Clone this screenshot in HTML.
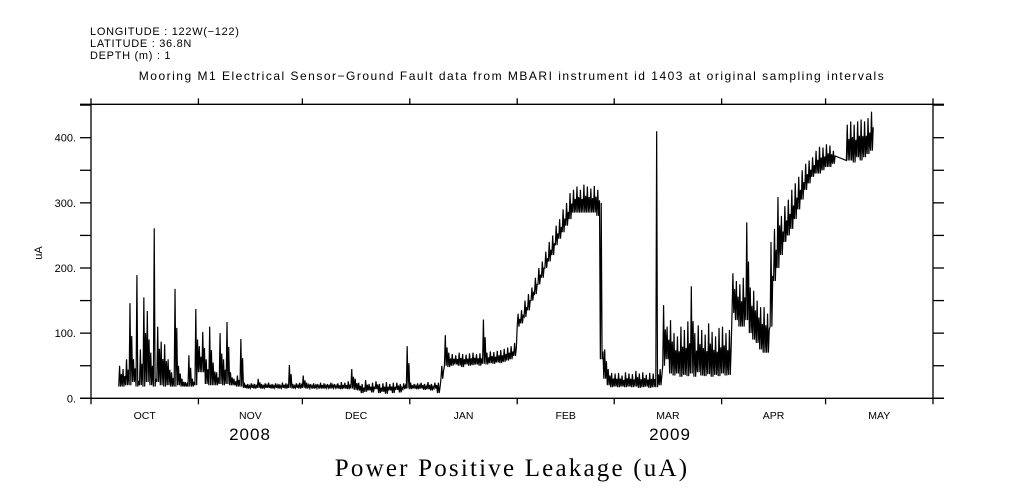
<!DOCTYPE html>
<html><head><meta charset="utf-8"><style>
html,body{margin:0;padding:0;background:#fff;}
svg{display:block;font-family:"Liberation Sans",sans-serif;}
</style></head><body>
<svg id="chart" width="1009" height="504" viewBox="0 0 1009 504">
<g font-size="11" fill="#000" letter-spacing="0.7">
<text x="90" y="35">LONGITUDE : 122W(−122)</text>
<text x="90" y="47">LATITUDE : 36.8N</text>
<text x="90" y="59">DEPTH (m) : 1</text>
</g>
<text x="512" y="80" text-anchor="middle" font-size="12" letter-spacing="1.5">Mooring M1 Electrical Sensor−Ground Fault data from MBARI instrument id 1403 at original sampling intervals</text>
<g id="axes"></g>
<g id="series"></g>
<text x="0" y="0" transform="translate(42,253) rotate(-90)" text-anchor="middle" font-size="11">uA</text>
<text x="250" y="440" text-anchor="middle" font-size="17" letter-spacing="1">2008</text>
<text x="670" y="440" text-anchor="middle" font-size="17" letter-spacing="1">2009</text>
<text x="512" y="476" text-anchor="middle" font-size="25" letter-spacing="2.2" font-family="'Liberation Serif',serif">Power Positive Leakage (uA)</text>
</svg>
<script>
const monthLabels = ["OCT","NOV","DEC","JAN","FEB","MAR","APR","MAY"];
const monthStartDays = [0,31,61,92,123,151,182,212,243];
const yTicks = [0,100,200,300,400];
const yTickLabels = ["0.","100.","200.","300.","400."];
const startDay = 8;
const lo = [18,18,20,20,25,18,20,18,25,20,18,25,20,18,20,18,18,20,18,18,18,18,20,40,40,22,20,20,20,22,20,22,20,20,18,18,
16,15,16,15,16,15,16,16,15,16,
15,16,15,16,15,16,15,16,15,16,
15,16,15,15,16,15,16,15,14,15,
14,15,13,12,8,10,12,9,14,8,
10,7,12,8,13,9,14,15,14,15,
14,15,13,14,12,15,8,
30,50,48,50,52,50,48,52,50,51,52,50,53,52,54,53,55,54,56,58,60,
65,110,115,125,135,150,160,175,185,200,210,220,235,245,255,265,275,285,285,285,285,285,285,285,280,
60,30,20,17,18,17,18,17,18,17,18,16,17,18,16,17,17,20,50,60,38,
35,38,33,36,34,38,33,40,35,34,37,33,36,34,38,35,36,
131,120,110,110,120,100,90,85,75,70,70,110,180,200,220,240,250,260,275,290,305,320,330,340,345,345,350,355,355,360,
null,null,null,
365,365,362,370,365,370,375,380];
const hi = [50,45,60,146,60,189,75,155,134,70,261,110,87,83,60,40,168,50,30,25,66,30,137,80,102,60,110,55,40,100,60,117,40,30,35,91,
24,22,23,22,30,22,23,24,22,23,
22,24,23,51,22,23,24,35,24,22,
23,22,24,23,22,24,22,23,25,24,
26,45,30,24,22,28,22,24,26,22,
23,25,22,24,24,22,23,80,24,22,
23,24,22,25,22,24,24,
50,97,70,68,66,70,68,67,69,70,68,69,121,70,72,71,73,74,76,78,80,
85,130,135,150,160,170,185,200,210,225,240,250,265,275,290,300,315,320,325,320,328,325,322,326,320,
300,75,45,39,38,39,35,40,38,37,42,38,40,36,39,38,410,45,143,110,120,
100,95,110,105,118,172,100,112,105,98,115,102,95,108,110,100,105,
192,180,175,185,270,170,165,150,140,140,130,240,260,309,280,295,305,320,330,340,350,360,365,370,380,386,385,390,388,380,
null,null,null,
420,425,420,425,428,425,430,440];

const X0=91, X1=933, Y0=398.3, YT=104.3, DAYS=243, VMAX=(Y0-YT)/0.6515;
function xs(d){return X0+(X1-X0)*d/DAYS;}
function ys(v){return Y0-(Y0-YT)*v/VMAX;}
const NS="http://www.w3.org/2000/svg";
const axes=document.getElementById('axes');
function line(x1,y1,x2,y2,name){
  const l=document.createElementNS(NS,'line');
  l.setAttribute('x1',x1);l.setAttribute('y1',y1);l.setAttribute('x2',x2);l.setAttribute('y2',y2);
  l.setAttribute('stroke','#000');l.setAttribute('stroke-width','1.3');
  
  
  axes.appendChild(l);
}
function txt(x,y,s,anchor,size,name){
  const t=document.createElementNS(NS,'text');
  t.setAttribute('x',x);t.setAttribute('y',y);t.setAttribute('text-anchor',anchor);t.setAttribute('font-size',size);
  t.textContent=s;
  
  
  axes.appendChild(t);
}
line(80,YT,944,YT,'top-axis');
line(80,Y0,944,Y0,'bottom-axis');
line(X0,YT,X0,Y0,'left-axis');
line(X1,YT,X1,Y0,'right-axis');
for(let v=0; v<=450; v+=50){
  const y=ys(v);
  line(80,y,X0,y,'y-tick-left');
  line(X1,y,944,y,'y-tick-right');
}
yTicks.forEach((v,i)=>txt(76,ys(v)+4,yTickLabels[i],'end',11,'y-tick-label'));
monthStartDays.forEach(d=>{
  const x=xs(d);
  line(x,Y0,x,Y0+6,'x-tick');
  line(x,YT,x,YT-6,'x-tick-top');
});
monthLabels.forEach((m,i)=>{
  txt((xs(monthStartDays[i])+xs(monthStartDays[i+1]))/2,419,m,'middle',10.5,'month-label');
});
let dstr='';
for(let i=0;i<lo.length;i++){
  if(lo[i]===null) continue;
  const d=startDay+i, a=lo[i], b=hi[i];
  const f=(b-a)>150?0.05:0.6;
  const pts=[[d,a],[d+0.25,b],[d+0.5,a],[d+0.75,a+(b-a)*f]];
  pts.forEach(p=>{dstr+=(dstr?'L':'M')+xs(p[0]).toFixed(2)+','+ys(p[1]).toFixed(2);});
}
const path=document.createElementNS(NS,'path');
path.setAttribute('d',dstr);
path.setAttribute('fill','none');path.setAttribute('stroke','#000');path.setAttribute('stroke-width','1.2');


document.getElementById('series').appendChild(path);
</script>
</body></html>
